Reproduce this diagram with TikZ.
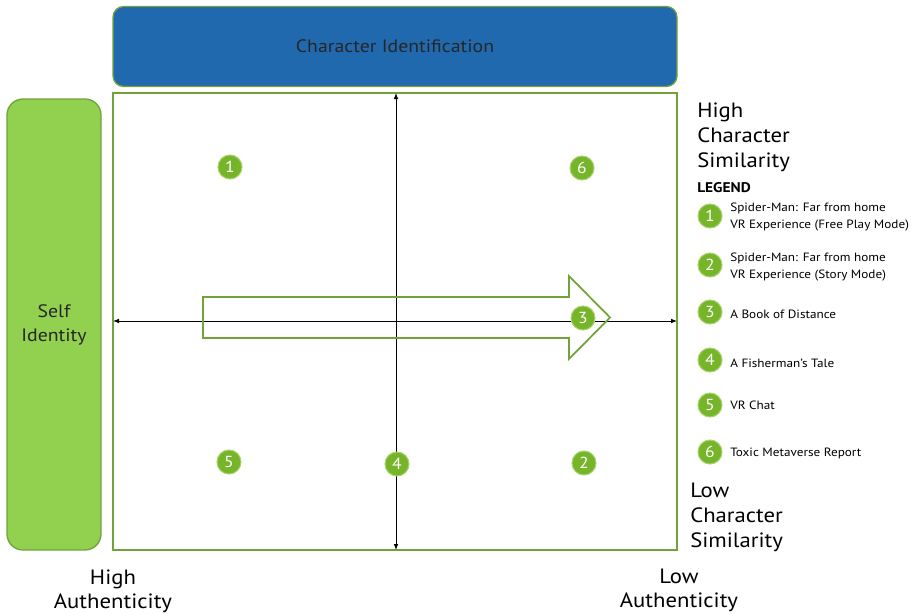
\documentclass[tikz,border=0pt]{standalone}
\usepackage{fontspec}
\setmainfont{PT Sans}[FakeStretch=1.1]
\usetikzlibrary{arrows.meta}
\definecolor{blueF}{HTML}{2169AE}
\definecolor{greenF}{HTML}{92D050}
\definecolor{greenB}{HTML}{71A33A}
\definecolor{dotF}{HTML}{76B52A}
\definecolor{dotB}{HTML}{A6D36A}
\tikzset{
  dot/.style={circle,fill=dotF,draw=dotB,line width=0.8pt,minimum size=18pt,inner sep=0pt,text=white,font=\fontsize{12}{12}\selectfont},
  bigtxt/.style={font=\fontsize{15.5}{18.5}\selectfont,align=left,inner sep=0pt},
  axtxt/.style={font=\fontsize{15.5}{18}\selectfont,align=center,inner sep=0pt},
  legtxt/.style={font=\fontsize{9}{13}\selectfont,align=left,inner sep=0pt,anchor=west},
  axis/.style={black,line width=0.7pt,{Latex[length=4.5pt,width=3.5pt]}-{Latex[length=4.5pt,width=3.5pt]}}
}
\begin{document}
\begin{tikzpicture}[x=0.75pt,y=-0.75pt]
\useasboundingbox (0,0) rectangle (915,614);
% top box
\node[draw=greenB,line width=1pt,fill=blueF,rounded corners=8pt,minimum width=564*0.75pt,minimum height=80*0.75pt,font=\fontsize{13.5}{16}\selectfont,text=black!85] (ci) at (395,46.5) {Character Identification};
% side box
\node[draw=greenB,line width=1pt,fill=greenF,rounded corners=12pt,minimum width=94*0.75pt,minimum height=451*0.75pt,font=\fontsize{13.5}{18}\selectfont,align=center,text=black!85] (si) at (54,324.5) {Self\\Identity};
% main rectangle
\draw[greenB,line width=1.5pt] (113,93) rectangle (677,550);
\coordinate (vt) at (396,93);
\coordinate (vb) at (396,550);
\coordinate (hl) at (113,321);
\coordinate (hr) at (677,321);
\draw[axis] (vt) -- (vb);
\draw[axis] (hl) -- (hr);
% block arrow
\draw[greenB,line width=1.3pt,line join=miter] (203,297) -- (569,297) -- (569,276) -- (610,317.5) -- (569,359) -- (569,338) -- (203,338) -- cycle;
% dots
\node[dot] (d1) at (230,167) {1};
\node[dot] (d6) at (582,168) {6};
\node[dot] (d3) at (583,318) {3};
\node[dot] (d5) at (229,462) {5};
\node[dot] (d4) at (397,464) {4};
\node[dot] (d2) at (584,463) {2};
% side labels
\node[bigtxt,anchor=north west] (hcs) at (697,103) {High\\Character\\Similarity};
\node[bigtxt,anchor=north west] (lcs) at (690,483) {Low\\Character\\Similarity};
\node[axtxt] (ha) at (113,591) {High\\Authenticity};
\node[axtxt] (la) at (679,590) {Low\\Authenticity};
% legend
\node[font=\bfseries\fontsize{10.5}{12}\selectfont,anchor=west,inner sep=0pt] (lg) at (697,188) {LEGEND};
\node[dot] (l1) at (710,216) {1};
\node[legtxt] (t1) at (730,217) {Spider-Man: Far from home\\VR Experience (Free Play Mode)};
\node[dot] (l2) at (710,265) {2};
\node[legtxt] (t2) at (730,267) {Spider-Man: Far from home\\VR Experience (Story Mode)};
\node[dot] (l3) at (710,312) {3};
\node[legtxt] (t3) at (730,314) {A Book of Distance};
\node[dot] (l4) at (710,360) {4};
\node[legtxt] (t4) at (730,363) {A Fisherman’s Tale};
\node[dot] (l5) at (710,405) {5};
\node[legtxt] (t5) at (730,405) {VR Chat};
\node[dot] (l6) at (710,452) {6};
\node[legtxt] (t6) at (730,453) {Toxic Metaverse Report};
\end{tikzpicture}
\end{document}
